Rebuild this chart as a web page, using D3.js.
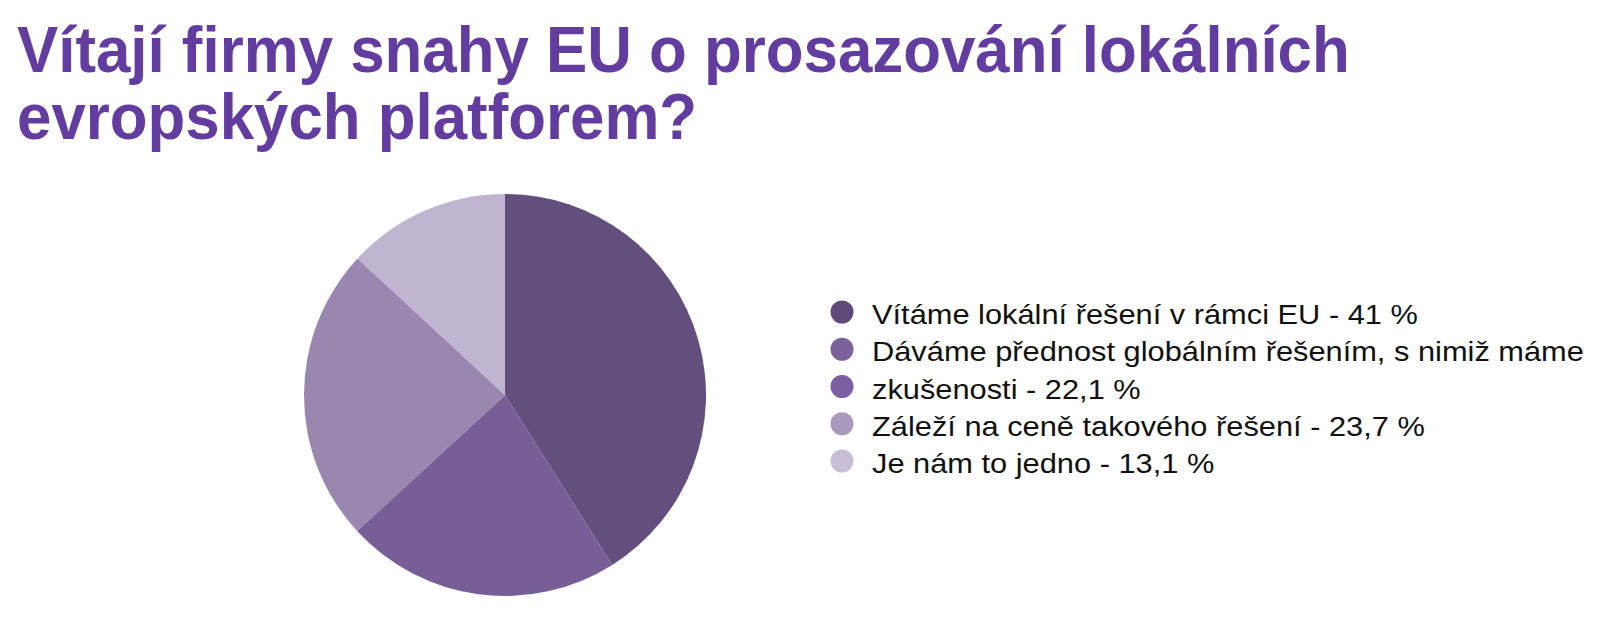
<!DOCTYPE html>
<html><head><meta charset="utf-8">
<script src="https://cdn.jsdelivr.net/npm/d3@7"></script>
<style>
html,body{margin:0;padding:0;background:#fff;}
svg{display:block;}
</style></head>
<body>
<svg id="chart" width="1600" height="638"></svg>
<script>
const titleLines = ["Vítají firmy snahy EU o prosazování lokálních", "evropských platforem?"];
const categories = ["Vítáme lokální řešení v rámci EU", "Dáváme přednost globálním řešením, s nimiž máme zkušenosti", "Záleží na ceně takového řešení", "Je nám to jedno"];
const values = [41, 22.1, 23.7, 13.1];
const valueLabels = ["41 %", "22,1 %", "23,7 %", "13,1 %"];
const legendLines = [
  "Vítáme lokální řešení v rámci EU - 41 %",
  "Dáváme přednost globálním řešením, s nimiž máme",
  "zkušenosti - 22,1 %",
  "Záleží na ceně takového řešení - 23,7 %",
  "Je nám to jedno - 13,1 %"
];
const sliceColors = ["#634f7d", "#775e96", "#9987af", "#c0b5d0"];
const legendColors = ["#5f4b7b", "#7a629a", "#7c5ea2", "#a899bd", "#c8bed6"];

const svg = d3.select("#chart");

svg.append("g").attr("transform", "translate(17,0) scale(0.966,1)")
  .selectAll("text").data(titleLines).join("text")
  .attr("x", 0)
  .attr("y", (d, i) => 72 + i * 67)
  .attr("font-family", "'Liberation Sans', Arial, sans-serif")
  .attr("font-weight", "bold")
  .attr("font-size", 64)
  .attr("fill", "#633ca0")
  .text(d => d);

const cx = 505, cy = 395, r = 201;
const pie = d3.pie().sort(null).value(d => d);
const arc = d3.arc().innerRadius(0).outerRadius(r);
svg.append("g").attr("transform", `translate(${cx},${cy})`)
  .selectAll("path").data(pie(values)).join("path")
  .attr("d", arc)
  .attr("fill", (d, i) => sliceColors[i]);

const legendY = d3.scalePoint().domain(d3.range(legendLines.length)).range([312, 461]);
const lg = svg.append("g");
const items = lg.selectAll("g").data(legendLines).join("g")
  .attr("transform", (d, i) => `translate(0,${legendY(i)})`);
items.append("circle").attr("cx", 842).attr("cy", 0).attr("r", 11.5)
  .attr("fill", (d, i) => legendColors[i]);
items.append("g").attr("transform", "translate(872,0) scale(1.12,1)")
  .append("text").attr("x", 0).attr("y", 12)
  .attr("font-family", "'Liberation Sans', Arial, sans-serif")
  .attr("font-size", 27.5)
  .attr("fill", "#111")
  .text(d => d);
</script>
</body></html>
